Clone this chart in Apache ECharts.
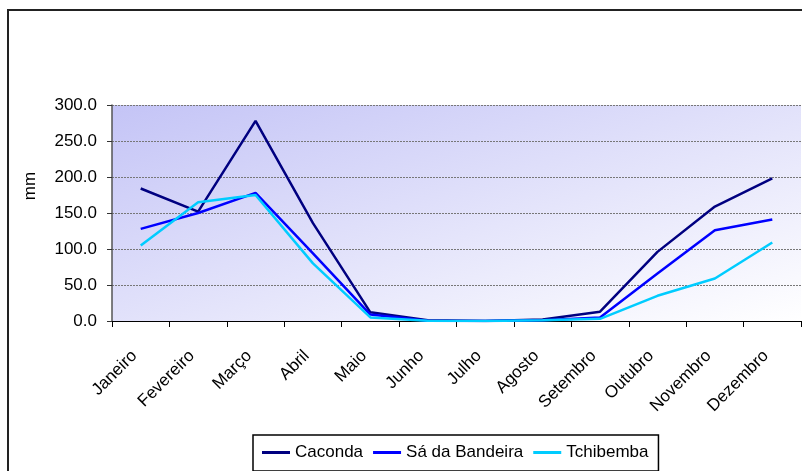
<!DOCTYPE html>
<html>
<head>
<meta charset="utf-8">
<script src="https://cdn.jsdelivr.net/npm/echarts@6/dist/echarts.min.js"></script>
<style>
  html, body { margin: 0; padding: 0; background: #ffffff; }
  #chart { width: 802px; height: 471px; }
</style>
</head>
<body>
<div id="chart"></div>
<script>
// Monthly rainfall (mm) at three stations
const months = ['Janeiro', 'Fevereiro', 'Março', 'Abril', 'Maio', 'Junho', 'Julho', 'Agosto', 'Setembro', 'Outubro', 'Novembro', 'Dezembro'];
const caconda = [184, 152, 278, 136, 12, 1, 0, 2, 13, 96, 159, 198];
const saDaBandeira = [128, 150, 178, 94, 9, 0.5, 0, 1, 5, 66, 126, 141];
const tchibemba = [105, 165, 175, 80, 5, 0.5, 0, 1, 3, 35, 59, 109];
const stationNames = ['Caconda', 'Sá da Bandeira', 'Tchibemba'];
const yTicks = [0, 50, 100, 150, 200, 250, 300];

const FONT = 'Liberation Sans, Arial, sans-serif';
const chart = echarts.init(document.getElementById('chart'), null, { renderer: 'canvas' });

function lineSeries(name, data, color, width) {
  return {
    name: name,
    type: 'line',
    data: data,
    symbol: 'none',
    smooth: false,
    lineStyle: { color: color, width: width },
    itemStyle: { color: color }
  };
}

// Plot-area fill: corner-to-corner shading, lightest at bottom right.
// The end point is chosen so the top-right and bottom-left corners share the mid tone.
const plotW = 689, plotH = 216;
const k = (2 * plotW * plotH) / (plotW * plotW + plotH * plotH);
const plotFill = new echarts.graphic.LinearGradient(0, 0, k * plotH / plotW, k * plotW / plotH, [
  { offset: 0, color: '#c4c4f6' },
  { offset: 1, color: '#ffffff' }
]);

chart.setOption({
  animation: false,
  backgroundColor: '#ffffff',
  textStyle: { fontFamily: FONT },
  grid: {
    left: 112, top: 105, right: 1, bottom: 150,
    show: true,
    borderWidth: 0,
    backgroundColor: plotFill
  },
  xAxis: {
    type: 'category',
    data: months,
    boundaryGap: true,
    axisLine: { show: true, lineStyle: { color: '#000000', width: 1 } },
    axisTick: { show: true, length: 6, lineStyle: { color: '#000000' } },
    axisLabel: { rotate: 45, margin: 26, padding: [0, 9, 0, 0], fontSize: 17, color: '#000000', fontFamily: FONT },
    splitLine: { show: false }
  },
  yAxis: {
    type: 'value',
    min: yTicks[0],
    max: yTicks[yTicks.length - 1],
    interval: 50,
    axisLine: { show: true, lineStyle: { color: '#555555', width: 1.5 } },
    axisTick: { show: true, length: 5, lineStyle: { color: '#333333' } },
    axisLabel: { margin: 15, fontSize: 17, color: '#000000', fontFamily: FONT,
      formatter: v => v.toFixed(1) },
    splitLine: { show: true, lineStyle: { color: '#777777', width: 1, type: [2, 1] } }
  },
  legend: {
    data: stationNames,
    left: 253,
    top: 435,
    orient: 'horizontal',
    icon: 'rect',
    itemWidth: 28,
    itemHeight: 3,
    itemGap: 10,
    padding: [9, 10, 10, 9],
    borderColor: '#000000',
    borderWidth: 1.5,
    backgroundColor: '#ffffff',
    textStyle: { fontSize: 17, color: '#000000', fontFamily: FONT }
  },
  graphic: [
    {
      type: 'rect',
      shape: { x: 8, y: 10, width: 900, height: 600 },
      style: { fill: 'none', stroke: '#222222', lineWidth: 2 },
      silent: true
    },
    {
      type: 'text',
      x: 30, y: 186,
      rotation: Math.PI / 2,
      style: { text: 'mm', fontSize: 17, fill: '#000000', fontFamily: FONT,
        align: 'center', verticalAlign: 'middle' },
      silent: true
    }
  ],
  series: [
    lineSeries(stationNames[0], caconda, '#000080', 2.5),
    lineSeries(stationNames[1], saDaBandeira, '#0000ff', 2.5),
    lineSeries(stationNames[2], tchibemba, '#00ccff', 2.5)
  ]
});
</script>
</body>
</html>
